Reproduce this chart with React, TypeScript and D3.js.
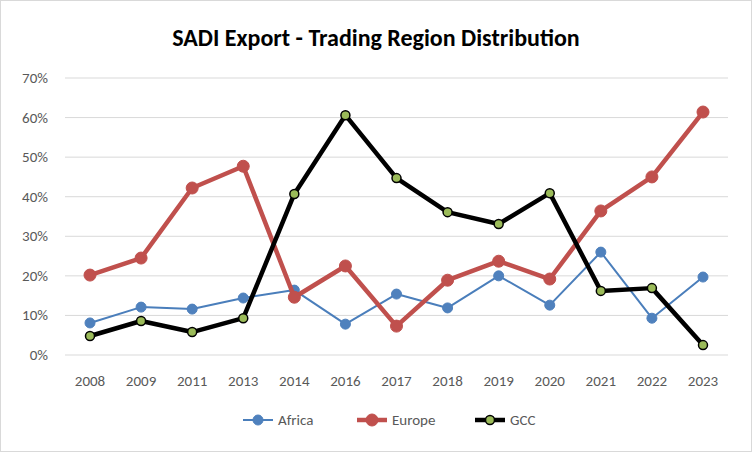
import React from "react";
import * as d3 from "d3";

const years = ["2008","2009","2011","2013","2014","2016","2017","2018","2019","2020","2021","2022","2023"];
const africa = [8.1,12.1,11.6,14.4,16.4,7.8,15.4,11.9,20.0,12.6,26.0,9.3,19.7];
const europe = [20.2,24.5,42.2,47.7,14.6,22.5,7.3,18.9,23.7,19.2,36.4,45.0,61.4];
const gcc = [4.8,8.6,5.8,9.3,40.7,60.6,44.7,36.1,33.1,40.9,16.2,16.9,2.5];
const yTicks = [0,10,20,30,40,50,60,70];

const series = [
  { name: "Africa", values: africa, color: "#4a7ebb", width: 2, r: 5, fill: "#4f81bd", stroke: "#4f81bd" },
  { name: "Europe", values: europe, color: "#c0504d", width: 4.5, r: 6, fill: "#c0504d", stroke: "#c0504d" },
  { name: "GCC", values: gcc, color: "#000000", width: 4.5, r: 4.5, fill: "#9bbb59", stroke: "#000000" },
];

export default function App() {
  const W = 752, H = 452;
  const x = d3.scalePoint().domain(years).range([90, 703]);
  const y = d3.scaleLinear().domain([0, 70]).range([355, 78]);
  const font = "Calibri, Carlito, 'Liberation Sans', Arial, sans-serif";
  const legendX = [258, 372, 490];
  return (
    <svg width={W} height={H} style={{ position: "fixed", left: 0, top: 0 }} fontFamily={font}>
      <rect x={0.5} y={0.5} width={W - 1} height={H - 1} fill="#fff" stroke="#d9d9d9" />
      <text x={376} y={46} textAnchor="middle" fontSize={24} fontWeight="bold" fill="#000">SADI Export - Trading Region Distribution</text>
      {yTicks.map(t => (
        <g key={t}>
          <line x1={65} x2={728} y1={y(t)} y2={y(t)} stroke="#d9d9d9" />
          <text x={48} y={y(t) + 5} textAnchor="end" fontSize={15} fill="#595959">{t}%</text>
        </g>
      ))}
      {years.map(yr => (
        <text key={yr} x={x(yr)} y={386} textAnchor="middle" fontSize={15} fill="#595959">{yr}</text>
      ))}
      {series.map(s => {
        const line = d3.line<number>().x((_, i) => x(years[i])!).y(d => y(d));
        return (
          <g key={s.name}>
            <path d={line(s.values)!} fill="none" stroke={s.color} strokeWidth={s.width} strokeLinejoin="round" />
            {s.values.map((v, i) => (
              <circle key={i} cx={x(years[i])} cy={y(v)} r={s.r} fill={s.fill} stroke={s.stroke} strokeWidth={s.name === "GCC" ? 1.5 : 1} />
            ))}
          </g>
        );
      })}
      {series.map((s, i) => (
        <g key={s.name}>
          <line x1={legendX[i] - 15} x2={legendX[i] + 15} y1={420} y2={420} stroke={s.color} strokeWidth={s.width} />
          <circle cx={legendX[i]} cy={420} r={s.r} fill={s.fill} stroke={s.stroke} strokeWidth={s.name === "GCC" ? 1.5 : 1} />
          <text x={legendX[i] + 20} y={425} fontSize={15} fill="#595959">{s.name}</text>
        </g>
      ))}
    </svg>
  );
}
